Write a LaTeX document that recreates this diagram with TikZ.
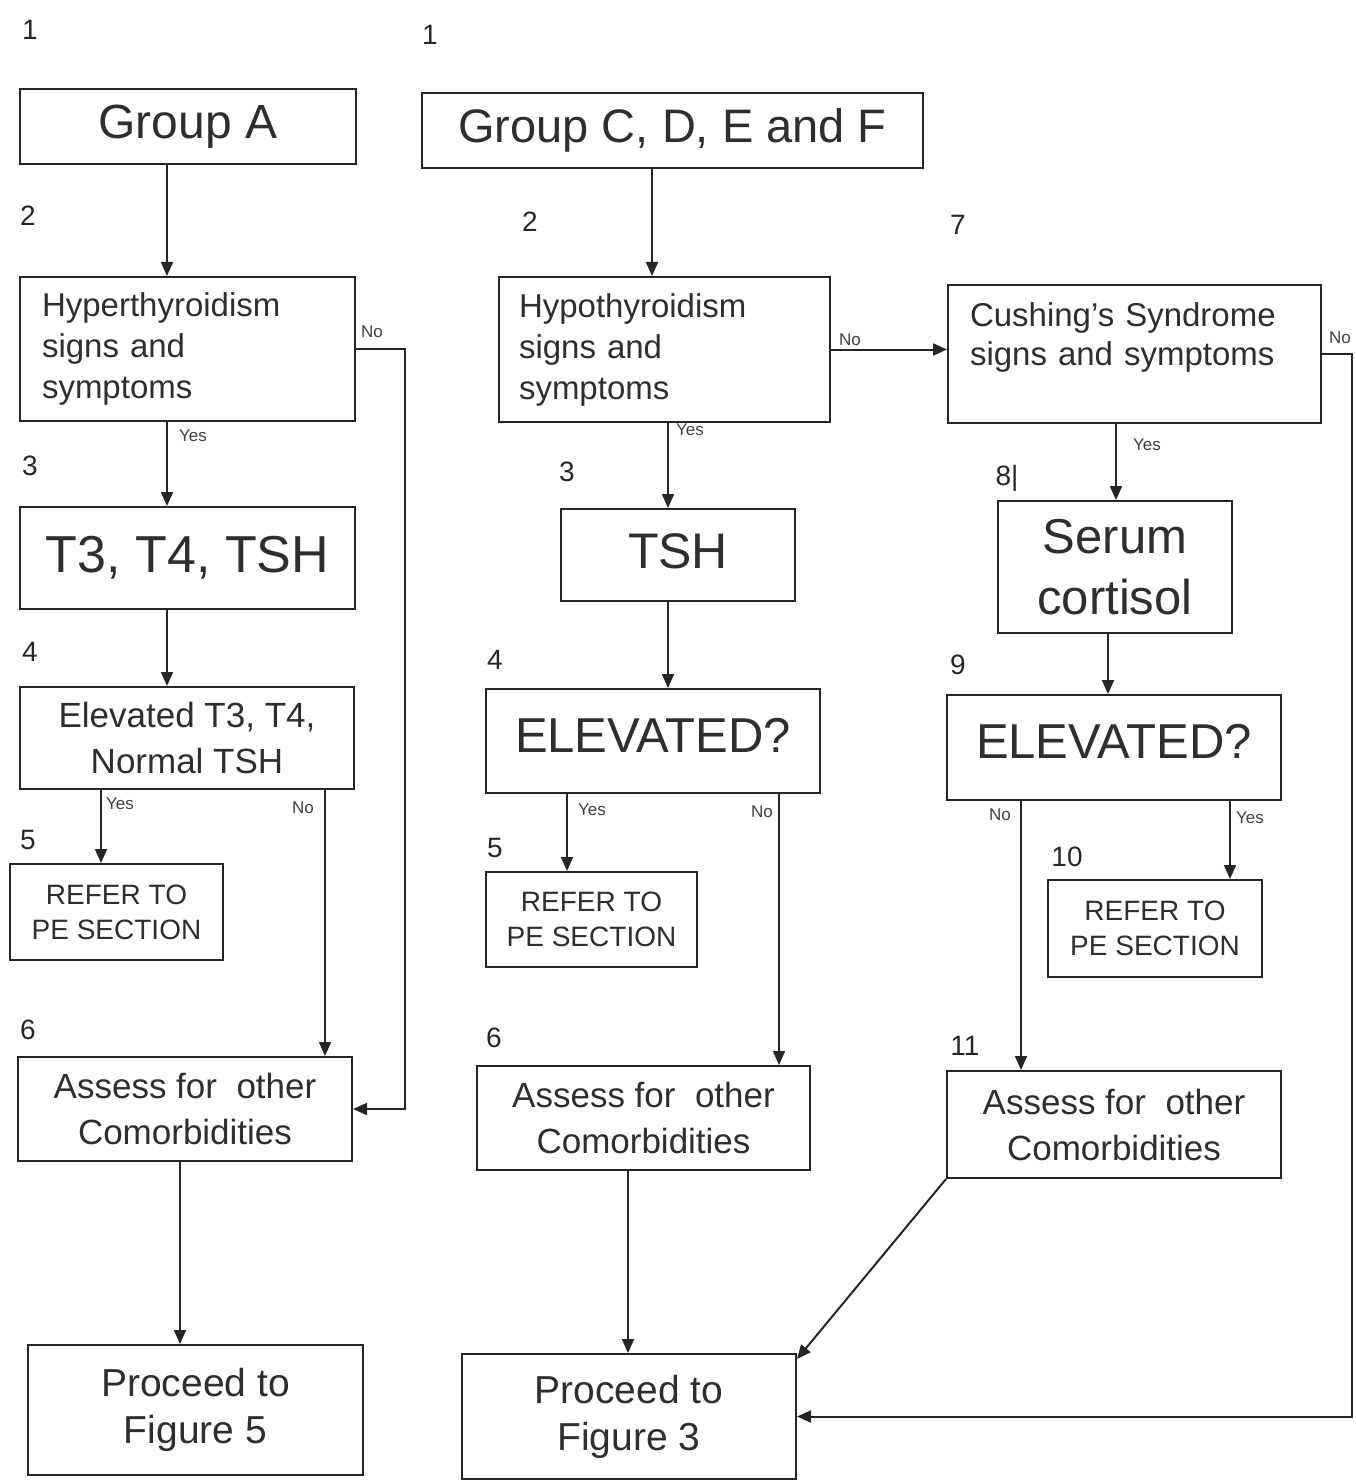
\documentclass[tikz,border=0pt]{standalone}
\usepackage{fontspec}
\setmainfont{Liberation Sans}
\usetikzlibrary{arrows.meta,calc}
\newcommand\fsz[2]{\fontsize{#1}{#2}\selectfont}
\begin{document}
\begin{tikzpicture}[x=0.5pt,y=-0.5pt,
  box/.style={draw=black!85, line width=1pt, rectangle, inner sep=0pt, align=center, text=black!82},
  lbox/.style={box, align=left, inner xsep=11pt},
  arr/.style={draw=black!85, line width=1pt, -{Triangle[length=7pt,width=6pt]}},
  lab/.style={font=\fsz{8.5}{10}, text=black!75, inner sep=0pt},
  num/.style={font=\fsz{14}{16}, text=black!85, inner sep=0pt},
  ]
\useasboundingbox (0,0) rectangle (1355,1481);

% ---------- column A ----------
\node[box, minimum width=168pt, minimum height=37.5pt, font=\fsz{24}{28}] (A1) at (188,126.5) {Group A};
\node[lbox, minimum width=167.5pt, minimum height=72pt, text width=145.5pt, font=\fsz{16.5}{20.5}] (A2) at (187.5,349) {Hyperthyroidism\\signs and\\symptoms};
\node[box, minimum width=167.5pt, minimum height=51pt, font=\fsz{26}{30}] (A3) at (187.5,558) {\raisebox{2pt}{T3, T4, TSH}};
\node[box, minimum width=167pt, minimum height=51pt, font=\fsz{17.5}{23}] (A4) at (187,738) {Elevated T3, T4,\\Normal TSH};
\node[box, minimum width=106.5pt, minimum height=48pt, font=\fsz{14}{17.5}] (A5) at (116.5,912) {REFER TO\\PE SECTION};
\node[box, minimum width=167pt, minimum height=52pt, font=\fsz{17.5}{23}] (A6) at (185,1109) {Assess for\ \ other\\Comorbidities};
\node[box, minimum width=167.5pt, minimum height=65pt, font=\fsz{19.5}{23.5}] (A7) at (195.5,1410) {\raisebox{1.5pt}{Proceed to}\\\raisebox{1.5pt}{Figure 5}};

% ---------- column B ----------
\node[box, minimum width=250.5pt, minimum height=37.5pt, font=\fsz{23.5}{28}] (B1) at (672.5,130.5) {Group C, D, E and F};
\node[lbox, inner xsep=10pt, minimum width=165.5pt, minimum height=72.5pt, text width=145.5pt, font=\fsz{16.5}{20.5}] (B2) at (664.5,349.5) {Hypothyroidism\\signs and\\symptoms};
\node[box, minimum width=117pt, minimum height=46pt, font=\fsz{25}{30}] (B3) at (678,555) {\raisebox{4pt}{TSH}};
\node[box, minimum width=167pt, minimum height=52pt, font=\fsz{24.5}{30}] (B4) at (653,741) {\raisebox{6pt}{ELEVATED?}};
\node[box, minimum width=105.5pt, minimum height=47.5pt, font=\fsz{14}{17.5}] (B5) at (591.5,919.5) {REFER TO\\PE SECTION};
\node[box, minimum width=166.5pt, minimum height=52pt, font=\fsz{17.5}{23}] (B6) at (643.5,1118) {Assess for\ \ other\\Comorbidities};
\node[box, minimum width=167pt, minimum height=62.5pt, font=\fsz{19.5}{23.5}] (B7) at (629,1416.5) {\raisebox{1.5pt}{Proceed to}\\\raisebox{1.5pt}{Figure 3}};

% ---------- column C ----------
\node[lbox, minimum width=186.5pt, minimum height=69pt, text width=164.5pt, font=\fsz{16.5}{19.5}] (C2) at (1134.5,354) {Cushing's Syndrome\\signs and symptoms\\\mbox{}};
\node[box, minimum width=117pt, minimum height=66pt, font=\fsz{24.5}{30.5}] (C3) at (1115,567) {Serum\\cortisol};
\node[box, minimum width=167pt, minimum height=52.5pt, font=\fsz{24.5}{30}] (C4) at (1114,747.5) {\raisebox{6pt}{ELEVATED?}};
\node[box, minimum width=107pt, minimum height=48.5pt, font=\fsz{14}{17.5}] (C5) at (1155,928.5) {REFER TO\\PE SECTION};
\node[box, minimum width=167pt, minimum height=53.5pt, font=\fsz{17.5}{23}] (C6) at (1114,1124.5) {Assess for\ \ other\\Comorbidities};

% ---------- helper x positions ----------
\coordinate (xa1) at (167,0);
\coordinate (xa2) at (101,0);
\coordinate (xa3) at (325,0);
\coordinate (xa4) at (180,0);
\coordinate (xar) at (405,0);
\coordinate (xb1) at (652,0);
\coordinate (xb2) at (668,0);
\coordinate (xb3) at (567,0);
\coordinate (xb4) at (779,0);
\coordinate (xb5) at (628,0);
\coordinate (xc1) at (1116,0);
\coordinate (xc2) at (1108,0);
\coordinate (xc3) at (1230,0);
\coordinate (xc4) at (1021,0);
\coordinate (xcr) at (1352,0);

% ---------- connectors A ----------
\draw[arr] (A1.south -| xa1) -- (A2.north -| xa1);
\draw[arr] (A2.south -| xa1) -- (A3.north -| xa1);
\draw[arr] (A3.south -| xa1) -- (A4.north -| xa1);
\draw[arr] (A4.south -| xa2) -- (A5.north -| xa2);
\draw[arr] (A4.south -| xa3) -- (A6.north -| xa3);
\draw[arr] (A2.east) -- (A2.east -| xar) |- (A6.east);
\draw[arr] (A6.south -| xa4) -- (A7.north -| xa4);

% ---------- connectors B ----------
\draw[arr] (B1.south -| xb1) -- (B2.north -| xb1);
\draw[arr] (B2.east) -- (B2.east -| C2.west);
\draw[arr] (B2.south -| xb2) -- (B3.north -| xb2);
\draw[arr] (B3.south -| xb2) -- (B4.north -| xb2);
\draw[arr] (B4.south -| xb3) -- (B5.north -| xb3);
\draw[arr] (B4.south -| xb4) -- (B6.north -| xb4);
\draw[arr] (B6.south -| xb5) -- (B7.north -| xb5);

% ---------- connectors C ----------
\draw[arr] (C2.south -| xc1) -- (C3.north -| xc1);
\draw[arr] (C3.south -| xc2) -- (C4.north -| xc2);
\draw[arr] (C4.south -| xc3) -- (C5.north -| xc3);
\draw[arr] (C4.south -| xc4) -- (C6.north -| xc4);
\draw[arr] (C6.south west) -- ([yshift=-3pt]B7.north east);
\draw[arr] (C2.east) -- (C2.east -| xcr) |- (B7.east);

% ---------- Yes / No labels ----------
\node[lab] (l1) at (372,332) {No};
\node[lab] (l2) at (193,436) {Yes};
\node[lab] (l3) at (120,804) {Yes};
\node[lab] (l4) at (303,808) {No};
\node[lab] (l5) at (850,340) {No};
\node[lab] (l6) at (690,430) {Yes};
\node[lab] (l7) at (592,810) {Yes};
\node[lab] (l8) at (762,812) {No};
\node[lab] (l9) at (1340,338) {No};
\node[lab] (l10) at (1147,445) {Yes};
\node[lab] (l11) at (1000,815) {No};
\node[lab] (l12) at (1250,818) {Yes};

% ---------- step numbers ----------
\node[num] (n1) at (30,30) {1};
\node[num] (n2) at (430,35) {1};
\node[num] (n3) at (28,216) {2};
\node[num] (n4) at (530,222) {2};
\node[num] (n5) at (958,225) {7};
\node[num] (n6) at (30,466) {3};
\node[num] (n7) at (567,472) {3};
\node[num] (n8) at (1007,478) {8|};
\node[num] (n9) at (30,652) {4};
\node[num] (n10) at (495,660) {4};
\node[num] (n11) at (958,665) {9};
\node[num] (n12) at (28,840) {5};
\node[num] (n13) at (495,848) {5};
\node[num] (n14) at (1067,857) {10};
\node[num] (n15) at (28,1030) {6};
\node[num] (n16) at (494,1038) {6};
\node[num] (n17) at (965,1046) {11};
\end{tikzpicture}
\end{document}
